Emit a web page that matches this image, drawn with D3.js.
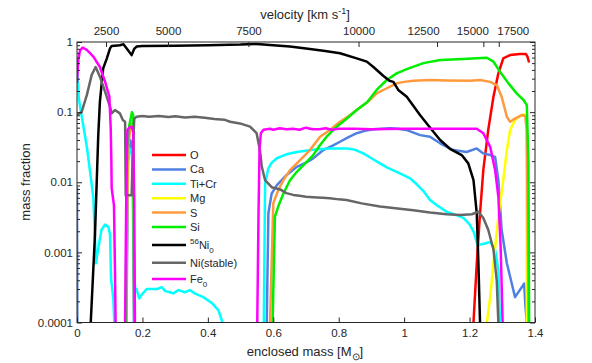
<!DOCTYPE html>
<html><head><meta charset="utf-8">
<script src="https://cdn.jsdelivr.net/npm/d3@7"></script>
<style>
body{margin:0;background:#fff}
text{font-family:"Liberation Sans",Arial,Helvetica,sans-serif;fill:#262626}
</style>
</head><body>
<svg id="chart" width="592" height="363"></svg>
<script>
// ---------- data ----------
const massTicks = [0, 0.2, 0.4, 0.6, 0.8, 1, 1.2, 1.4];
const massTickLabels = ["0", "0.2", "0.4", "0.6", "0.8", "1", "1.2", "1.4"];
const fracTicks = [1e-4, 1e-3, 1e-2, 1e-1, 1];
const fracTickLabels = ["0.0001", "0.001", "0.01", "0.1", "1"];
const velocityTicks = [2500, 5000, 7500, 10000, 12500, 15000, 17500];
const velocityTickMass = [0.0887, 0.2782, 0.524, 0.8606, 1.1006, 1.2421, 1.2892];

const seriesNames = ["O", "Ca", "Ti+Cr", "Mg", "S", "Si", "56Ni0", "Ni(stable)", "Fe0"];
const seriesColors = ["#ff0000", "#4f80e2", "#00ffff", "#ffff00", "#ff9a3c", "#00ee00", "#000000", "#666666", "#ff00ff"];

// [enclosed mass, mass fraction]  (1e-6 = below plotted range)
const dataO = [[1.211,1e-6],[1.212,1e-4],[1.222,0.0007],[1.232,0.0036],[1.242,0.0149],[1.257,0.0555],[1.273,0.166],[1.288,0.357],[1.303,0.585],[1.324,0.652],[1.354,0.674],[1.372,0.674],[1.377,0.617],[1.382,0.51]];

const dataCa = [[0,0.0085],[0.001,1e-4],[0.002,1e-6],[0.149,1e-6],[0.151,1e-4],[0.156,0.02],[0.163,0.04],[0.17,0.03],[0.174,1e-4],[0.175,1e-6],[0.578,1e-6],[0.58,1e-4],[0.585,0.0036],[0.595,0.0069],[0.611,0.0091],[0.641,0.0127],[0.672,0.0166],[0.7,0.019],[0.722,0.0219],[0.753,0.0288],[0.78,0.033],[0.804,0.0378],[0.83,0.044],[0.855,0.05],[0.88,0.054],[0.906,0.057],[0.957,0.059],[0.98,0.058],[1.008,0.0555],[1.049,0.047],[1.079,0.0446],[1.11,0.0359],[1.15,0.0288],[1.191,0.027],[1.222,0.0304],[1.242,0.0258],[1.263,0.0244],[1.278,0.023],[1.288,0.0107],[1.298,0.0021],[1.314,0.0007],[1.329,0.00036],[1.339,0.00023],[1.344,0.00025],[1.36,0.00032],[1.367,0.00036],[1.37,0.00019],[1.375,1e-4],[1.376,1e-6]];

const dataTiCr = [[0,0.45],[0.006,0.15],[0.014,0.09],[0.031,0.03],[0.05,0.006],[0.058,0.0007],[0.065,0.00114],[0.075,0.0021],[0.086,0.0025],[0.096,0.0023],[0.101,0.0018],[0.104,0.00043],[0.111,0.00022],[0.114,1e-4],[0.115,1e-6],[0.148,1e-6],[0.15,1e-4],[0.155,0.02],[0.162,0.03],[0.168,0.025],[0.172,0.005],[0.175,0.0005],[0.178,0.0003],[0.182,0.0003],[0.19,0.00022],[0.198,0.00025],[0.213,0.0003],[0.233,0.0003],[0.244,0.0003],[0.259,0.00032],[0.27,0.00028],[0.284,0.00027],[0.294,0.00026],[0.31,0.00029],[0.33,0.00027],[0.345,0.00029],[0.36,0.00026],[0.386,0.00023],[0.412,0.00019],[0.432,0.00015],[0.445,1e-4],[0.446,1e-6],[0.57,1e-6],[0.571,1e-4],[0.575,0.0096],[0.585,0.0158],[0.595,0.019],[0.611,0.022],[0.64,0.025],[0.672,0.027],[0.72,0.029],[0.773,0.0304],[0.825,0.0304],[0.85,0.029],[0.875,0.0258],[0.9,0.022],[0.926,0.0186],[0.95,0.016],[0.977,0.0141],[1.0,0.0125],[1.018,0.0114],[1.04,0.0092],[1.059,0.0075],[1.079,0.0056],[1.1,0.0047],[1.13,0.0038],[1.16,0.0034],[1.181,0.0031],[1.2,0.0025],[1.212,0.002],[1.224,0.0013],[1.235,0.0013],[1.247,0.00134],[1.263,0.00141],[1.278,0.0011],[1.288,0.00056],[1.293,1e-4],[1.294,1e-6]];

const dataMg = [[1.252,1e-6],[1.253,1e-4],[1.263,0.00023],[1.273,0.0007],[1.288,0.0032],[1.303,0.0107],[1.314,0.0288],[1.324,0.0555],[1.339,0.077],[1.354,0.088],[1.367,0.093],[1.373,0.088],[1.375,1e-4],[1.376,1e-6]];

const dataS = [[0.148,1e-6],[0.15,1e-4],[0.156,0.03],[0.163,0.06],[0.168,0.07],[0.172,0.05],[0.175,1e-4],[0.176,1e-6],[0.588,1e-6],[0.59,1e-4],[0.6,0.005],[0.615,0.0077],[0.631,0.0107],[0.651,0.0149],[0.682,0.0207],[0.712,0.0288],[0.743,0.0446],[0.773,0.0555],[0.804,0.073],[0.835,0.091],[0.875,0.126],[0.896,0.149],[0.916,0.185],[0.947,0.219],[0.977,0.257],[1.0,0.27],[1.028,0.28],[1.079,0.287],[1.13,0.283],[1.201,0.28],[1.232,0.287],[1.263,0.27],[1.283,0.243],[1.298,0.166],[1.314,0.086],[1.324,0.073],[1.339,0.081],[1.36,0.091],[1.37,0.088],[1.375,0.0555],[1.38,1e-4],[1.381,1e-6]];

const dataSi = [[0.147,1e-6],[0.149,1e-4],[0.153,0.03],[0.16,0.065],[0.168,0.1],[0.172,0.09],[0.175,1e-4],[0.176,1e-6],[0.596,1e-6],[0.598,1e-4],[0.605,0.0032],[0.615,0.0045],[0.631,0.0069],[0.651,0.0107],[0.672,0.0141],[0.702,0.0196],[0.722,0.0244],[0.743,0.034],[0.763,0.0446],[0.794,0.062],[0.825,0.081],[0.855,0.107],[0.886,0.137],[0.916,0.207],[0.947,0.287],[0.977,0.357],[1.008,0.41],[1.059,0.5],[1.11,0.553],[1.181,0.572],[1.222,0.585],[1.253,0.597],[1.273,0.524],[1.293,0.377],[1.319,0.257],[1.344,0.185],[1.365,0.149],[1.375,0.126],[1.38,0.0188],[1.382,1e-4],[1.383,1e-6]];

const dataNi56 = [[0.041,1e-6],[0.042,1e-4],[0.055,0.0018],[0.065,0.047],[0.07,0.14],[0.08,0.42],[0.091,0.58],[0.101,0.81],[0.106,0.88],[0.131,0.9],[0.142,0.93],[0.152,0.81],[0.167,0.65],[0.175,0.8],[0.182,0.86],[0.2,0.88],[0.3,0.885],[0.4,0.9],[0.5,0.92],[0.545,0.94],[0.56,0.93],[0.6,0.9],[0.651,0.86],[0.7,0.81],[0.753,0.75],[0.804,0.69],[0.855,0.585],[0.886,0.525],[0.906,0.44],[0.936,0.33],[0.955,0.28],[0.967,0.27],[0.982,0.207],[1.008,0.166],[1.049,0.09],[1.09,0.052],[1.11,0.04],[1.14,0.03],[1.176,0.0244],[1.196,0.0186],[1.212,0.0107],[1.222,0.0036],[1.227,0.0007],[1.232,1e-4],[1.233,1e-6]];

const dataNiStable = [[0,0.091],[0.014,0.1],[0.03,0.175],[0.045,0.34],[0.057,0.44],[0.07,0.32],[0.086,0.195],[0.101,0.119],[0.106,0.096],[0.116,0.107],[0.131,0.096],[0.14,0.077],[0.147,0.073],[0.149,0.0065],[0.167,0.0065],[0.171,0.03],[0.175,0.08],[0.182,0.086],[0.2,0.088],[0.22,0.086],[0.25,0.088],[0.28,0.085],[0.3,0.087],[0.33,0.084],[0.36,0.086],[0.39,0.083],[0.42,0.08],[0.45,0.078],[0.468,0.073],[0.498,0.069],[0.529,0.062],[0.549,0.05],[0.559,0.029],[0.565,0.0166],[0.575,0.0107],[0.595,0.0085],[0.621,0.0079],[0.64,0.007],[0.661,0.0066],[0.68,0.0064],[0.7,0.0062],[0.722,0.0061],[0.75,0.006],[0.773,0.0059],[0.8,0.0057],[0.824,0.0056],[0.87,0.005],[0.926,0.0045],[0.987,0.0042],[1.028,0.004],[1.079,0.0037],[1.13,0.0035],[1.171,0.0034],[1.207,0.0035],[1.227,0.0038],[1.242,0.0031],[1.257,0.0021],[1.273,0.0011],[1.283,0.0004],[1.288,1e-4],[1.289,1e-6]];

const dataFe0 = [[0,0.26],[0.004,0.55],[0.009,0.75],[0.017,0.83],[0.03,0.77],[0.05,0.62],[0.07,0.44],[0.086,0.27],[0.099,0.166],[0.103,0.06],[0.105,0.02],[0.106,0.0082],[0.113,0.0047],[0.116,0.0006],[0.118,1e-4],[0.119,1e-6],[0.146,1e-6],[0.147,1e-4],[0.151,0.01],[0.154,0.056],[0.16,0.06],[0.167,0.062],[0.172,0.052],[0.175,0.005],[0.177,1e-4],[0.178,1e-6],[0.549,1e-6],[0.551,1e-4],[0.555,0.004],[0.558,0.03],[0.562,0.05],[0.57,0.056],[0.59,0.058],[0.6,0.056],[0.62,0.059],[0.64,0.057],[0.66,0.058],[0.68,0.056],[0.7,0.06],[0.72,0.057],[0.74,0.057],[0.76,0.059],[0.78,0.056],[0.8,0.058],[0.85,0.058],[0.9,0.057],[1.0,0.058],[1.1,0.058],[1.2,0.058],[1.222,0.058],[1.242,0.05],[1.263,0.032],[1.278,0.015],[1.288,0.0062],[1.295,0.0012],[1.301,1e-4],[1.302,1e-6]];

const seriesData = [dataO, dataCa, dataTiCr, dataMg, dataS, dataSi, dataNi56, dataNiStable, dataFe0];

// ---------- layout ----------
const L = 77, R = 535, T = 42, B = 322.5;
const svg = d3.select("#chart");
const x = d3.scaleLinear().domain([0, 1.4]).range([L, R]);
const y = d3.scaleLog().domain([1e-4, 1]).range([B, T]);
const v = d3.scaleLinear().domain(velocityTicks).range(velocityTickMass.map(m => x(m)));
const axisColor = "#262626";
// horizontal label shifts for the crowded velocity labels (as in the original figure)
const velocityLabelShift = [0, 0, 0, 0, -14, -11, 14];

svg.append("defs").append("clipPath").attr("id", "clip")
  .append("rect").attr("x", L).attr("y", T).attr("width", R - L).attr("height", B - T);

// lines
const line = d3.line().x(d => x(d[0])).y(d => y(Math.max(d[1], 1e-7)));
const gLines = svg.append("g").attr("clip-path", "url(#clip)");
seriesData.forEach((d, i) => {
  gLines.append("path").datum(d).attr("d", line)
    .attr("fill", "none").attr("stroke", seriesColors[i])
    .attr("stroke-width", 2.5).attr("stroke-linejoin", "round").attr("stroke-linecap", "butt");
});

function styleAxis(g) {
  g.select(".domain").remove();
  g.selectAll(".tick line").attr("stroke", axisColor).attr("stroke-width", 1);
  g.selectAll(".tick text").attr("fill", axisColor).style("font-size", "11.5px")
    .style("font-family", '"Liberation Sans", Arial, sans-serif');
}

// bottom axis (mass)
svg.append("g").attr("transform", `translate(0,${B})`)
  .call(d3.axisBottom(x).tickValues(massTicks).tickFormat((d, i) => massTickLabels[i]).tickSize(-5).tickPadding(6))
  .call(styleAxis);

// top axis (velocity)
const topAxis = svg.append("g").attr("transform", `translate(0,${T})`)
  .call(d3.axisTop(v).tickValues(velocityTicks).tickFormat(d3.format("d")).tickSize(-5).tickPadding(7))
  .call(styleAxis);
topAxis.selectAll(".tick text").attr("dx", (d, i) => velocityLabelShift[i]);

// left axis major
svg.append("g").attr("transform", `translate(${L},0)`)
  .call(d3.axisLeft(y).tickValues(fracTicks).tickFormat((d, i) => fracTickLabels[i]).tickSize(-5).tickPadding(4))
  .call(styleAxis);
// minor ticks
const minor = [];
fracTicks.slice(0, -1).forEach(b => { for (let k = 2; k <= 9; k++) minor.push(b * k); });
svg.append("g").attr("transform", `translate(${L},0)`)
  .call(d3.axisLeft(y).tickValues(minor).tickFormat("").tickSize(-3)).call(styleAxis);
// right axis
svg.append("g").attr("transform", `translate(${R},0)`)
  .call(d3.axisRight(y).tickValues(fracTicks).tickFormat("").tickSize(-5)).call(styleAxis);
svg.append("g").attr("transform", `translate(${R},0)`)
  .call(d3.axisRight(y).tickValues(minor).tickFormat("").tickSize(-3)).call(styleAxis);

// frame
svg.append("rect").attr("x", L).attr("y", T).attr("width", R - L).attr("height", B - T)
  .attr("fill", "none").attr("stroke", axisColor).attr("stroke-width", 1);

// titles
const vt = svg.append("text").attr("x", 305).attr("y", 19).attr("text-anchor", "middle").style("font-size", "13px");
vt.append("tspan").text("velocity [km s");
vt.append("tspan").attr("dy", -5).style("font-size", "9px").text("-1");
vt.append("tspan").attr("dy", 5).text("]");

const xt = svg.append("text").attr("x", 305).attr("y", 356).attr("text-anchor", "middle").style("font-size", "13px");
xt.append("tspan").text("enclosed mass [M");
xt.append("tspan").attr("dy", 4).style("font-size", "10px").text("\u2299");
xt.append("tspan").attr("dy", -4).text("]");

svg.append("text").attr("transform", "translate(30,182) rotate(-90)")
  .attr("text-anchor", "middle").style("font-size", "13px").text("mass fraction");

// legend
const legendY = [155, 169.4, 183.8, 198.2, 212.6, 227, 245, 262.7, 279];
const lg = svg.append("g");
seriesNames.forEach((name, i) => {
  const yy = legendY[i];
  lg.append("line").attr("x1", 152).attr("x2", 186).attr("y1", yy).attr("y2", yy)
    .attr("stroke", seriesColors[i]).attr("stroke-width", 2.5);
  const t = lg.append("text").attr("x", 190).attr("y", yy + 4).style("font-size", "11px");
  if (name === "56Ni0") {
    t.append("tspan").attr("dy", -5).style("font-size", "8px").text("56");
    t.append("tspan").attr("dy", 5).text("Ni");
    t.append("tspan").attr("dy", 4).style("font-size", "8px").text("0");
  } else if (name === "Fe0") {
    t.append("tspan").text("Fe");
    t.append("tspan").attr("dy", 4).style("font-size", "8px").text("0");
  } else {
    t.text(name);
  }
});
</script>
</body></html>
